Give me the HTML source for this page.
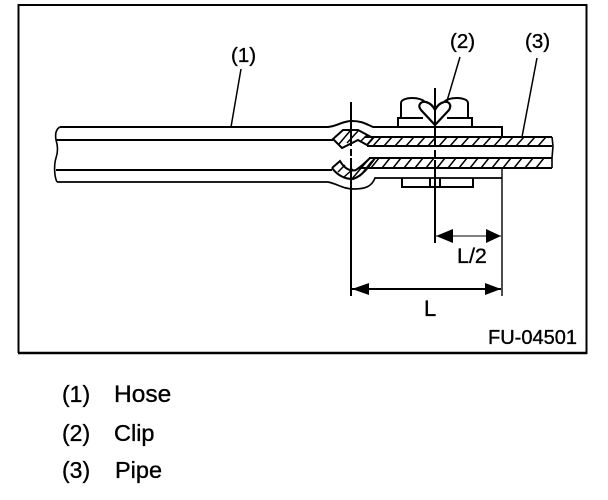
<!DOCTYPE html>
<html><head><meta charset="utf-8"><style>
html,body{margin:0;padding:0;background:#fff}
svg{display:block}
text{font-family:"Liberation Sans",sans-serif;fill:#000;stroke:#000;stroke-width:.35}
</style></head><body>
<svg width="608" height="500" viewBox="0 0 608 500" xmlns="http://www.w3.org/2000/svg">
<path d="M18.5 353V5H586.5V353H18Z" fill="none" stroke="#000" stroke-width="2"/>
<path d="M18 353H587" stroke="#000" stroke-width="2.4"/>
<g fill="none" stroke="#000" stroke-width="2">
<path d="M60 127H328C338 126 342 121 352 121C362 121 366 124 373 127H502V137"/>
<path d="M56 140H333"/>
<path d="M60 127C56 129 55 134 56 140C58 146 58 152 56 158C54 164 54 176 57 182" stroke-width="1.6"/>
<path d="M56 170H332"/>
<path d="M57 182H328C338 184 343 189 354 189C366 189 372 186 375 178H502" stroke-width="1.7"/>
<!-- pipe -->
<path d="M365 137H552M367 146H552M369 158H552M358 168H552"/>
<path d="M552 137L553 146L552 158V168" stroke-width="1.6"/>
<path stroke-width="1.5" d="M373 146l8-9M384 146l8-9M395 146l8-9M406 146l8-9M417 146l8-9M428 146l8-9M439 146l8-9M450 146l8-9M461 146l8-9M472 146l8-9M483 146l8-9M494 146l8-9M505 146l8-9M516 146l8-9M527 146l8-9M538 146l8-9
M382 168l8-10M393 168l8-10M404 168l8-10M415 168l8-10M426 168l8-10M437 168l8-10M448 168l8-10M459 168l8-10M470 168l8-10M481 168l8-10M492 168l8-10M503 168l8-10M514 168l8-10M525 168l8-10M536 168l8-10M371 168l8-10"/>
<!-- hose end upper -->
<path d="M333 139L343 130H358L373 138L367 145L358 140L342 148Z"/>
<path d="M339 144L350 131M347 143L358 131M360 142L367 135" stroke-width="1.5"/>
<!-- hose end lower -->
<path d="M332 168L340 161C344 168 350 172 356 170C362 166 366 162 370 158M332 168C338 176 345 179 353 179C362 176 368 168 375 158"/>
<path d="M338 172L345 165M344 177L353 169M351 180L368 160M360 176L372 161" stroke-width="1.5"/>
<!-- clip -->
<path d="M401 118V103C401 100 406 98 412 98C418 98 422 99 425 102"/>
<path d="M468 118V103C468 100 463 98 457 98C451 98 447 99 444 102"/>
<path d="M398 127V118H423M447 118H472V127"/>
<path d="M435 125L421 110C417 105 421 101 426 102C430 103 433 106 435 110C437 106 440 103 444 102C449 101 452 105 449 110Z" fill="#fff" stroke-width="2.2"/>
<path d="M402 178V187H473V178M430 178V187M440 178V187"/>
<!-- verticals -->
<path d="M351 102V146M351 149V156M351 158V296"/>
<path d="M435 88V146M435 150V157M435 160V243"/>
<path d="M502 168V296" stroke-width="1.4"/>
<!-- dims -->
<path d="M436 236H501" stroke-width="1"/>
<path d="M352 289H501"/>
<!-- leaders -->
<path d="M241 69L231 127" stroke-width="1.5"/>
<path d="M460 57L447 101" stroke-width="1.5"/>
<path d="M537 58L522 137" stroke-width="1.5"/>
</g>
<path d="M436 236L453 229V243Z M501 236L486 229V243Z M352 289L369 283V295Z M501 289L485 283V295Z" fill="#000"/>
<text x="231" y="62" font-size="20.5">(1)</text>
<text x="450" y="48" font-size="20.5">(2)</text>
<text x="525" y="48" font-size="20.5">(3)</text>
<text x="457" y="263" font-size="21.5">L/2</text>
<text x="424" y="316" font-size="22">L</text>
<text x="488" y="344" font-size="20">FU-04501</text>
<text x="62" y="402" font-size="23">(1)</text>
<text x="114" y="402" font-size="24.5">Hose</text>
<text x="62" y="441" font-size="23">(2)</text>
<text x="114" y="441" font-size="23.5">Clip</text>
<text x="62" y="478" font-size="23">(3)</text>
<text x="115" y="478" font-size="23.5">Pipe</text>
</svg>
</body></html>
